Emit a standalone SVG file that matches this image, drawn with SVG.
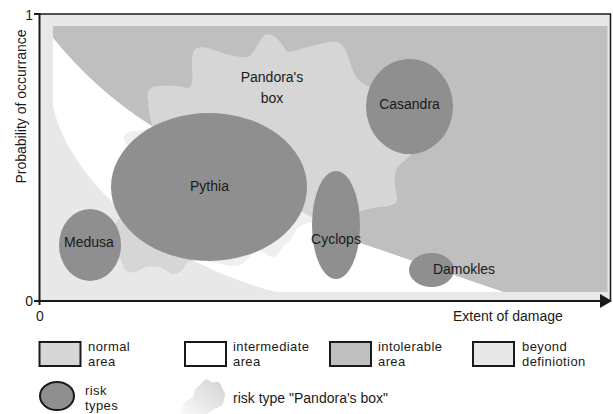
<svg xmlns="http://www.w3.org/2000/svg" width="613" height="414" viewBox="0 0 613 414">
  <defs>
    <style>
      .lbl { font-family: "Liberation Sans", Arial, sans-serif; font-size: 14px; fill: #1a1a1a; }
      .key-lbl { font-size: 13px; letter-spacing: 0.4px; }
      .mid { text-anchor: middle; }
      .end { text-anchor: end; }
      .risk { fill: #8f8f8f; }
      .beyond { fill: #e8e8e8; }
      .intolerable { fill: #bfbfbf; }
      .normal { fill: #d6d6d6; }
      .axis { stroke: #1a1a1a; stroke-width: 2; fill: none; }
      .frame { stroke: #1a1a1a; stroke-width: 1.5; fill: none; }
      .key { stroke: #1a1a1a; stroke-width: 2; }
    </style>
    <!-- area between the two boundary curves -->
    <path id="intermediate-shape" d="M53,38 Q95,90 150,125 Q205,160 360,243 L503,292 L277,292 C150,260 65,170 53,105 Z"/>
    <linearGradient id="fade" x1="1" y1="0" x2="0" y2="1">
      <stop offset="0" stop-color="#d2d2d2"/>
      <stop offset="1" stop-color="#fafafa"/>
    </linearGradient>
  </defs>

  <!-- plot areas -->
  <g id="areas">
    <rect class="beyond" x="40" y="14" width="570" height="287"/>
    <path class="intolerable" d="M53,26 L607.5,26 L607.5,292 L503,292 L360,243 Q205,160 150,125 Q95,90 53,38 Z"/>
    <use href="#intermediate-shape" fill="#ffffff"/>
  </g>

  <!-- risk type "Pandora's box" -->
  <g id="pandoras-box">
    <path class="normal" d="M112,232 C115,222 120,216 130,212 L142,150 C134,150 126,146 124,140 C123,134 128,131 134,131 C140,131 146,130 152,126 C150,118 148,108 148,100 C146,92 150,87 157,86 C166,85 178,86 188,88 C192,86 193,80 192,70 C192,62 192,56 193,53 C194,48 200,46 208,48 C220,52 235,58 247,57 C255,55 258,40 265,35 C272,32 280,40 287,52 C295,52 305,47 315,45 C325,43 330,41 337,42 C344,43 348,55 352,68 C355,78 360,83 372,88 L414,150 C410,158 400,162 396,170 C393,180 396,190 397,198 C398,205 390,206 380,207 C370,208 362,210 350,216 L318,222 C305,222 300,226 297,229 C293,235 290,242 286,244 C280,248 278,258 272,257 C266,256 264,250 258,251 C250,252 248,262 240,265 C232,268 220,263 212,262 C203,261 196,259 188,262 C184,266 183,272 176,274 C170,276 166,268 158,267 C150,266 146,266 140,270 C134,274 126,273 124,268 C122,262 120,258 116,254 Z"/>
    <!-- the box shows lighter where it lies over the intermediate area -->
    <use href="#intermediate-shape" fill="#ffffff" fill-opacity="0.6"/>
    <text class="lbl mid" x="272" y="82">Pandora's</text>
    <text class="lbl mid" x="272" y="103">box</text>
  </g>

  <g id="medusa">
    <ellipse class="risk" cx="90" cy="245" rx="31" ry="36"/>
    <text class="lbl mid" x="89" y="246.5">Medusa</text>
  </g>
  <g id="pythia">
    <ellipse class="risk" cx="209" cy="187" rx="98" ry="74"/>
    <text class="lbl mid" x="209.5" y="191">Pythia</text>
  </g>
  <g id="casandra">
    <ellipse class="risk" cx="409.5" cy="106.5" rx="43.5" ry="47.5"/>
    <text class="lbl mid" x="409.5" y="109">Casandra</text>
  </g>
  <g id="cyclops">
    <ellipse class="risk" cx="336" cy="225" rx="24" ry="54"/>
    <text class="lbl mid" x="336" y="244">Cyclops</text>
  </g>
  <g id="damokles">
    <ellipse class="risk" cx="431.5" cy="270" rx="22.5" ry="17"/>
    <text class="lbl mid" x="464" y="273.5">Damokles</text>
  </g>

  <!-- axes and frame -->
  <g id="axes">
    <path class="frame" d="M40,14 H610.5 V301"/>
    <path class="axis" d="M39.5,13 V305 M34,14 H40 M34,301 H600"/>
    <polygon points="600,294 612,301 600,308" fill="#1a1a1a"/>
    <text class="lbl end" x="33" y="20">1</text>
    <text class="lbl end" x="33" y="306">0</text>
    <text class="lbl mid" x="40" y="321">0</text>
    <text class="lbl" x="453" y="321">Extent of damage</text>
    <text class="lbl mid" transform="translate(25.5,106.5) rotate(-90)">Probability of occurrance</text>
  </g>

  <!-- legend -->
  <g id="legend">
    <g id="key-normal">
      <rect class="key normal" x="39.5" y="342" width="41" height="24"/>
      <text class="lbl key-lbl" x="88" y="350.5">normal</text>
      <text class="lbl key-lbl" x="88" y="365.5">area</text>
    </g>
    <g id="key-intermediate">
      <rect class="key" fill="#ffffff" x="185" y="342" width="41" height="24"/>
      <text class="lbl key-lbl" x="233" y="350.5">intermediate</text>
      <text class="lbl key-lbl" x="233" y="365.5">area</text>
    </g>
    <g id="key-intolerable">
      <rect class="key intolerable" x="330" y="342" width="41" height="24"/>
      <text class="lbl key-lbl" x="378" y="350.5">intolerable</text>
      <text class="lbl key-lbl" x="378" y="365.5">area</text>
    </g>
    <g id="key-beyond">
      <rect class="key beyond" x="473" y="342" width="41" height="24"/>
      <text class="lbl key-lbl" x="522" y="350.5">beyond</text>
      <text class="lbl key-lbl" x="522" y="365.5">definiotion</text>
    </g>
    <g id="key-risk">
      <ellipse class="key risk" cx="57" cy="396" rx="17" ry="14"/>
      <text class="lbl key-lbl" x="85" y="394.5">risk</text>
      <text class="lbl key-lbl" x="85" y="409.5">types</text>
    </g>
    <g id="key-pandora">
      <path fill="url(#fade)" d="M180,414 L183,406 C185,401 189,399 193,397 C194,391 196,387 200,385 C202,382 204,380 207,379 C210,381 212,383 215,382 C218,381 221,383 222,387 C222,390 226,392 225,396 C223,399 225,402 222,405 C219,408 216,408 212,410 C210,412 208,414 206,414 Z"/>
      <text class="lbl" x="233" y="403">risk type "Pandora's box"</text>
    </g>
  </g>
</svg>
